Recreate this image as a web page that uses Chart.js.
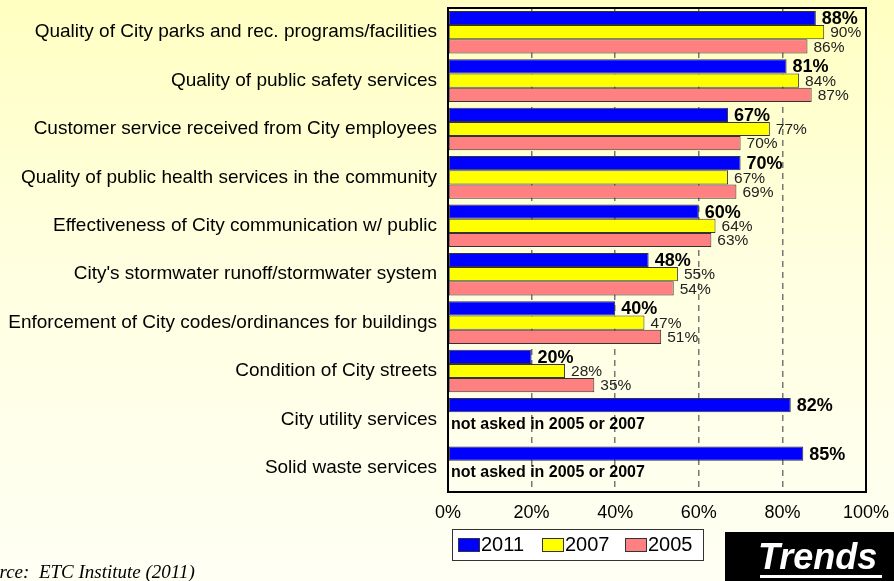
<!DOCTYPE html>
<html>
<head>
    <title>Trends</title>
    <style>
        html, body { margin: 0; padding: 0; }
        body {
            width: 894px; height: 581px; overflow: hidden;
            background: linear-gradient(to bottom, #ffffc2 0%, #ffffe0 45%, #fffff4 100%);
        }
        canvas { display: block; }
    </style>
</head>
<body>
    <canvas id="trendChart" width="894" height="581"></canvas>
    <script src="https://cdn.jsdelivr.net/npm/chart.js"></script>
    <script>
        const categories = [
            'Quality of City parks and rec. programs/facilities',
            'Quality of public safety services',
            'Customer service received from City employees',
            'Quality of public health services in the community',
            'Effectiveness of City communication w/ public',
            "City's stormwater runoff/stormwater system",
            'Enforcement of City codes/ordinances for buildings',
            'Condition of City streets',
            'City utility services',
            'Solid waste services'
        ];
        const years = ['2011', '2007', '2005'];
        const values2011 = [88, 81, 67, 70, 60, 48, 40, 20, 82, 85];
        const values2007 = [90, 84, 77, 67, 64, 55, 47, 28, null, null];
        const values2005 = [86, 87, 70, 69, 63, 54, 51, 35, null, null];
        const xTicks = [0, 20, 40, 60, 80, 100];
        const notAskedText = 'not asked in 2005 or 2007';

        const colors = ['#0000ff', '#ffff00', '#ff8080'];

        // value labels next to each bar, plus the "not asked" note
        const labelPlugin = {
            id: 'barLabels',
            afterDatasetsDraw(chart) {
                const ctx = chart.ctx;
                ctx.save();
                ctx.textBaseline = 'middle';
                ctx.textAlign = 'left';
                chart.data.datasets.forEach((ds, di) => {
                    const meta = chart.getDatasetMeta(di);
                    ctx.font = di === 0 ? 'bold 18px Arial, "Liberation Sans"' : '15.5px Arial, "Liberation Sans"';
                    ctx.fillStyle = di === 0 ? '#000' : '#222';
                    meta.data.forEach((bar, i) => {
                        const v = ds.data[i];
                        if (v === null) return;
                        ctx.fillText(v + '%', bar.x + 6, bar.y + 1);
                    });
                });
                const yScale = chart.scales.y;
                ctx.font = 'bold 16px Arial, "Liberation Sans"';
                ctx.fillStyle = '#000';
                values2007.forEach((v, i) => {
                    if (v !== null) return;
                    ctx.fillText(notAskedText, chart.chartArea.left + 3, yScale.getPixelForValue(i) + 5);
                });
                ctx.restore();
            },
            afterDraw(chart) {
                const ctx = chart.ctx;
                const a = chart.chartArea;
                ctx.save();
                // plot frame
                ctx.strokeStyle = '#000';
                ctx.lineWidth = 2;
                ctx.strokeRect(a.left, a.top, a.right - a.left, a.bottom - a.top);

                // legend box
                ctx.fillStyle = '#fff';
                ctx.fillRect(452, 529, 251, 31);
                ctx.strokeStyle = '#333';
                ctx.lineWidth = 1;
                ctx.strokeRect(452.5, 529.5, 251, 31);
                const legendX = [458, 542, 625];
                ctx.font = '20px Arial, "Liberation Sans"';
                ctx.textBaseline = 'middle';
                ctx.textAlign = 'left';
                years.forEach((y, i) => {
                    ctx.fillStyle = colors[i];
                    ctx.fillRect(legendX[i], 538, 21, 13);
                    ctx.strokeStyle = '#333';
                    ctx.strokeRect(legendX[i] + 0.5, 538.5, 21, 13);
                    ctx.fillStyle = '#000';
                    ctx.fillText(y, legendX[i] + 23, 545);
                });

                // Trends badge
                ctx.fillStyle = '#000';
                ctx.fillRect(725, 532, 169, 49);
                ctx.fillStyle = '#fff';
                ctx.font = 'italic bold 36px Arial, "Liberation Sans"';
                ctx.textBaseline = 'alphabetic';
                ctx.fillText('Trends', 758, 569);
                ctx.fillRect(760, 575, 122, 3);

                // source note
                ctx.fillStyle = '#000';
                ctx.font = 'italic 19px "Liberation Serif", "Times New Roman", serif';
                ctx.fillText('Source:  ETC Institute (2011)', -29, 578);
                ctx.restore();
            }
        };

        const ctx = document.getElementById('trendChart').getContext('2d');
        new Chart(ctx, {
            type: 'bar',
            data: {
                labels: categories,
                datasets: [values2011, values2007, values2005].map((d, i) => ({
                    label: years[i],
                    data: d,
                    backgroundColor: colors[i],
                    borderColor: '#333',
                    borderWidth: 1,
                    borderSkipped: false,
                    categoryPercentage: 0.88,
                    barPercentage: 1.0
                }))
            },
            options: {
                indexAxis: 'y',
                responsive: false,
                animation: false,
                layout: { padding: { top: 8, right: 28, left: 0, bottom: 0 } },
                plugins: {
                    legend: { display: false },
                    tooltip: { enabled: false }
                },
                scales: {
                    x: {
                        min: 0,
                        max: 100,
                        afterBuildTicks: scale => {
                            scale.ticks = xTicks.map(v => ({ value: v }));
                        },
                        afterFit: scale => {
                            scale.height = 89;
                            scale.paddingLeft = 0;
                            scale.paddingRight = 0;
                        },
                        ticks: {
                            callback: v => v + '%',
                            color: '#000',
                            font: { family: 'Arial, "Liberation Sans"', size: 18 },
                            padding: 10,
                            maxRotation: 0
                        },
                        grid: {
                            drawTicks: false,
                            color: ctx => (ctx.tick && (ctx.tick.value === 0 || ctx.tick.value === 100)) ? 'rgba(0,0,0,0)' : '#777',
                            lineWidth: 1.5
                        },
                        border: { display: false, dash: [6, 5] }
                    },
                    y: {
                        afterFit: scale => {
                            scale.width = 448;
                            scale.paddingTop = 0;
                            scale.paddingBottom = 0;
                        },
                        ticks: {
                            color: '#000',
                            font: { family: 'Arial, "Liberation Sans"', size: 19 },
                            padding: 11,
                            autoSkip: false
                        },
                        grid: { display: false, drawTicks: false },
                        border: { display: false }
                    }
                }
            },
            plugins: [labelPlugin]
        });
    </script>
</body>
</html>
